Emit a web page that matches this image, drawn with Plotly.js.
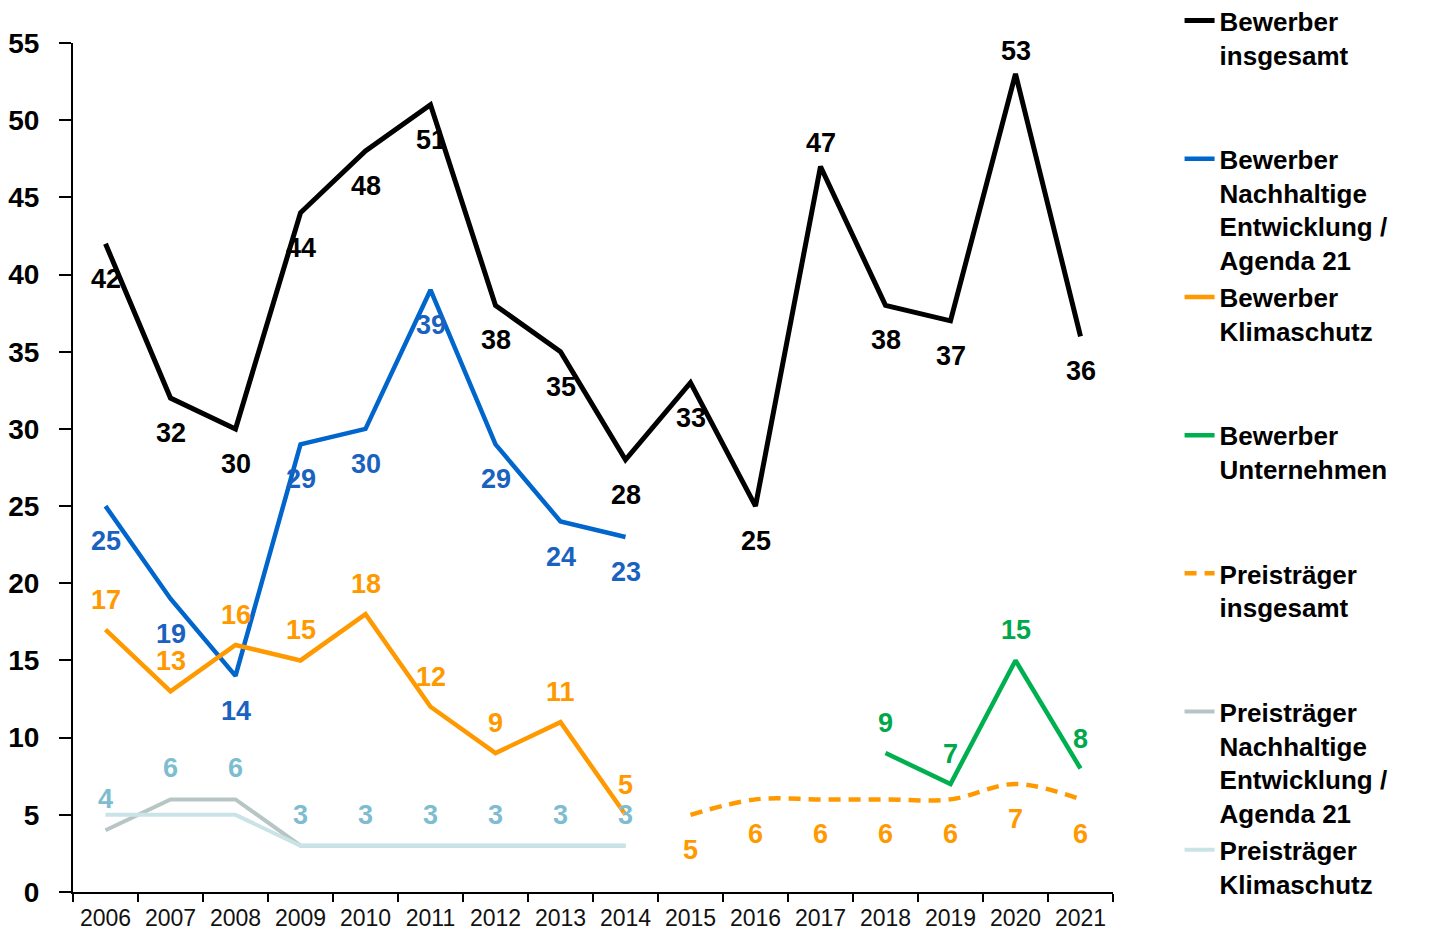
<!DOCTYPE html>
<html>
<head>
<meta charset="utf-8">
<script src="https://cdn.plot.ly/plotly-3.0.1.min.js"></script>
<style>html,body{margin:0;padding:0;background:#fff}#chart{width:1429px;height:935px}</style>
</head>
<body>
<div id="chart"></div>
<script>
// ---- data ----
const years = ['2006','2007','2008','2009','2010','2011','2012','2013','2014','2015','2016','2017','2018','2019','2020','2021'];
const bewerberInsgesamt   = [42,32,30,44,48,51,38,35,28,33,25,47,38,37,53,36];
const bewerberNachhaltig  = [25,19,14,29,30,39,29,24,23,null,null,null,null,null,null,null];
const bewerberKlima       = [17,13,16,15,18,12,9,11,5,null,null,null,null,null,null,null];
const bewerberUnternehmen = [null,null,null,null,null,null,null,null,null,null,null,null,9,7,15,8];
const preisInsgesamt      = [null,null,null,null,null,null,null,null,null,5,6,6,6,6,7,6];
const preisNachhaltig     = [4,6,6,3,3,3,3,3,3,null,null,null,null,null,null,null];
const preisKlima          = [5,5,5,3,3,3,3,3,3,null,null,null,null,null,null,null];

const seriesNames = [
  'Bewerber<br>insgesamt<br> <br> ',
  'Bewerber<br>Nachhaltige<br>Entwicklung /<br>Agenda 21',
  'Bewerber<br>Klimaschutz<br> <br> ',
  'Bewerber<br>Unternehmen<br> <br> ',
  'Preisträger<br>insgesamt<br> <br> ',
  'Preisträger<br>Nachhaltige<br>Entwicklung /<br>Agenda 21',
  'Preisträger<br>Klimaschutz'
];

// ---- styles ----
const FONT = 'Liberation Sans, Arial, sans-serif';
const styles = [
  {values: bewerberInsgesamt,   color:'#000000', width:5,   dash:'solid', shape:'linear', label:'#000000',
   pos:['b','b','b','b','b','b','b','b','b','b','b','t','b','b','t','b'], up:23, down:35},
  {values: bewerberNachhaltig,  color:'#0066cc', width:4.5, dash:'solid', shape:'linear', label:'#1a62c0', pos:'b', up:30, down:35},
  {values: bewerberKlima,       color:'#ff9900', width:4.5, dash:'solid', shape:'linear', label:'#ff9900', pos:'t', up:30, down:35},
  {values: bewerberUnternehmen, color:'#00b050', width:4.5, dash:'solid', shape:'linear', label:'#00a84c', pos:'t', up:30, down:35},
  {values: preisInsgesamt,      color:'#ff9900', width:4.5, dash:'12px,8px', shape:'spline', label:'#ff9900', pos:'b', up:30, down:35},
  {values: preisNachhaltig,     color:'#b7c5c5', width:4,   dash:'solid', shape:'linear', label:'#7dbdcf', pos:'t', up:31, down:35},
  {values: preisKlima,          color:'#cae3e7', width:4,   dash:'solid', shape:'linear', label:null, pos:'t', up:30, down:35}
];

const traces = styles.map((s, i) => ({
  type: 'scatter',
  mode: 'lines',
  x: years,
  y: s.values,
  name: seriesNames[i],
  connectgaps: false,
  line: {color: s.color, width: s.width, dash: s.dash, shape: s.shape, smoothing: 1},
  hoverinfo: 'x+y'
}));

// data labels: x given as the category index (numeric-looking category names are ambiguous)
const annotations = [];
styles.forEach(s => {
  if (!s.label) return;
  s.values.forEach((v, j) => {
    if (v === null) return;
    const p = Array.isArray(s.pos) ? s.pos[j] : s.pos;
    annotations.push({
      x: j, y: v, xref: 'x', yref: 'y',
      text: '<b>' + v + '</b>', showarrow: false,
      yshift: p === 't' ? s.up : -s.down,
      font: {family: FONT, size: 27, color: s.label}
    });
  });
});

const layout = {
  width: 1429, height: 935,
  margin: {l: 73, r: 316, t: 43, b: 43, autoexpand: false},
  paper_bgcolor: '#ffffff', plot_bgcolor: '#ffffff',
  showlegend: true,
  font: {family: FONT, color: '#000'},
  xaxis: {
    type: 'category', range: [-0.5, 15.5], tickson: 'boundaries',
    ticks: 'outside', ticklen: 8, tickwidth: 2, tickcolor: '#000',
    showline: true, linecolor: '#000', linewidth: 2, showgrid: false, zeroline: false,
    ticklabelstandoff: 4,
    tickfont: {family: FONT, size: 23, color: '#111'}, fixedrange: true
  },
  yaxis: {
    range: [0, 55], dtick: 5, tick0: 0,
    ticks: 'outside', ticklen: 12, tickwidth: 2, tickcolor: '#000',
    showline: true, linecolor: '#000', linewidth: 2, showgrid: false, zeroline: false,
    ticklabelstandoff: 14,
    tickfont: {family: FONT, size: 28, color: '#000', weight: 'bold'}, fixedrange: true
  },
  legend: {
    x: 1.064, xanchor: 'left', y: 1.054, yanchor: 'top',
    valign: 'top', tracegroupgap: 0, maxheight: 1,
    font: {family: FONT, size: 26, color: '#000', weight: 'bold'},
    bgcolor: 'rgba(0,0,0,0)', borderwidth: 0
  },
  annotations: annotations
};

Plotly.newPlot('chart', traces, layout, {displayModeBar: false});
</script>
</body>
</html>
